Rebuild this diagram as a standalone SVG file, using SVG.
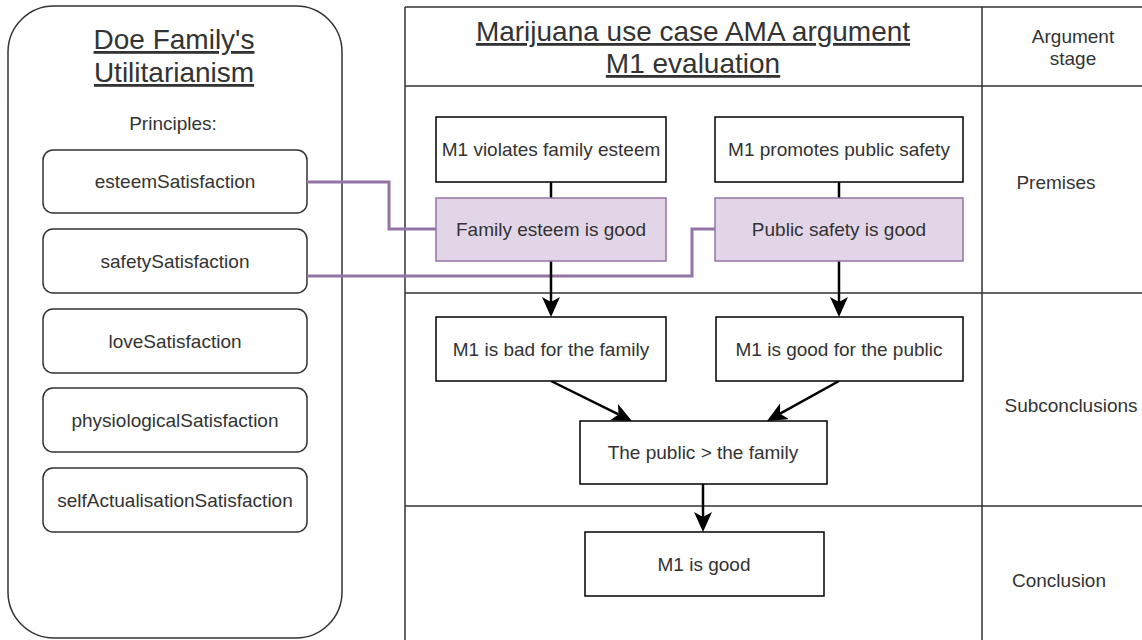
<svg xmlns="http://www.w3.org/2000/svg" width="1142" height="640" viewBox="0 0 1142 640">
<style>
  text { font-family: "Liberation Sans", Arial, sans-serif; fill: #333333; }
  .t19 { font-size: 19px; text-anchor: middle; }
  .title { font-size: 28px; text-anchor: middle; text-decoration: underline; }
  .panel { fill: #ffffff; stroke: #333333; stroke-width: 1.5; }
  .pbox { fill: #ffffff; stroke: #333333; stroke-width: 1.5; }
  .box { fill: #ffffff; stroke: #000000; stroke-width: 1.5; }
  .pur { fill: #e1d5e7; stroke: #9673a6; stroke-width: 1.5; }
  .grid { stroke: #333333; stroke-width: 1.5; fill: none; }
  .link { stroke: #9673a6; stroke-width: 3; fill: none; }
  .arrow { stroke: #000000; stroke-width: 2.5; fill: none; marker-end: url(#ah); }
</style>
<defs>
  <marker id="ah" viewBox="0 0 20 18" refX="5" refY="9" markerWidth="20" markerHeight="18" markerUnits="userSpaceOnUse" orient="auto">
    <path d="M0,0 L20,9 L0,18 L5,9 Z" fill="#000000"/>
  </marker>
</defs>
<rect width="1142" height="640" fill="#ffffff"/>

<g id="doe-family-panel">
  <rect class="panel" x="8" y="6" width="334" height="632" rx="46" ry="46"/>
  <text class="title" x="174" y="49">Doe Family's</text>
  <text class="title" x="174" y="82">Utilitarianism</text>
  <text class="t19" x="173" y="130">Principles:</text>
</g>
<g id="p-esteem"><rect class="pbox" x="43" y="150" width="264" height="63" rx="10"/><text class="t19" x="175" y="188">esteemSatisfaction</text></g>
<g id="p-safety"><rect class="pbox" x="43" y="229" width="264" height="64" rx="10"/><text class="t19" x="175" y="268">safetySatisfaction</text></g>
<g id="p-love"><rect class="pbox" x="43" y="309" width="264" height="64" rx="10"/><text class="t19" x="175" y="348">loveSatisfaction</text></g>
<g id="p-physio"><rect class="pbox" x="43" y="388" width="264" height="64" rx="10"/><text class="t19" x="175" y="427">physiologicalSatisfaction</text></g>
<g id="p-self"><rect class="pbox" x="43" y="468" width="264" height="64" rx="10"/><text class="t19" x="175" y="507">selfActualisationSatisfaction</text></g>

<g id="argument-table">
  <path class="grid" d="M405,7 H1142 M405,7 V640 M982,7 V640 M405,86 H1142 M405,293 H1142 M405,506 H1142"/>
  <text class="title" x="693" y="41">Marijuana use case AMA argument</text>
  <text class="title" x="693" y="73">M1 evaluation</text>
  <text class="t19" x="1073" y="43">Argument</text>
  <text class="t19" x="1073" y="65">stage</text>
  <text class="t19" x="1056" y="189">Premises</text>
  <text class="t19" x="1071" y="412">Subconclusions</text>
  <text class="t19" x="1059" y="587">Conclusion</text>
</g>

<g id="connectors">
  <path class="link" d="M307,182 H389 V229 H436"/>
  <path class="link" d="M307,276 H692 V229 H715"/>
  <path class="arrow" d="M551,182 V302"/>
  <path class="arrow" d="M839,182 V302"/>
  <path class="arrow" d="M551,381 L618.5,414.4"/>
  <path class="arrow" d="M839,381 L780.1,413.7"/>
  <path class="arrow" d="M703,484 V517"/>
</g>

<g id="n-violates"><rect class="box" x="436" y="117" width="230" height="65"/><text class="t19" x="551" y="156">M1 violates family esteem</text></g>
<g id="n-promotes"><rect class="box" x="715" y="117" width="248" height="65"/><text class="t19" x="839" y="156">M1 promotes public safety</text></g>
<g id="n-esteem-good"><rect class="pur" x="436" y="198" width="230" height="63"/><text class="t19" x="551" y="236">Family esteem is good</text></g>
<g id="n-safety-good"><rect class="pur" x="715" y="198" width="248" height="63"/><text class="t19" x="839" y="236">Public safety is good</text></g>
<g id="n-bad-family"><rect class="box" x="436" y="317" width="230" height="64"/><text class="t19" x="551" y="356">M1 is bad for the family</text></g>
<g id="n-good-public"><rect class="box" x="716" y="317" width="247" height="64"/><text class="t19" x="839" y="356">M1 is good for the public</text></g>
<g id="n-public-family"><rect class="box" x="580" y="421" width="247" height="63"/><text class="t19" x="703" y="459">The public &gt; the family</text></g>
<g id="n-m1-good"><rect class="box" x="585" y="532" width="239" height="64"/><text class="t19" x="704" y="571">M1 is good</text></g>
</svg>
